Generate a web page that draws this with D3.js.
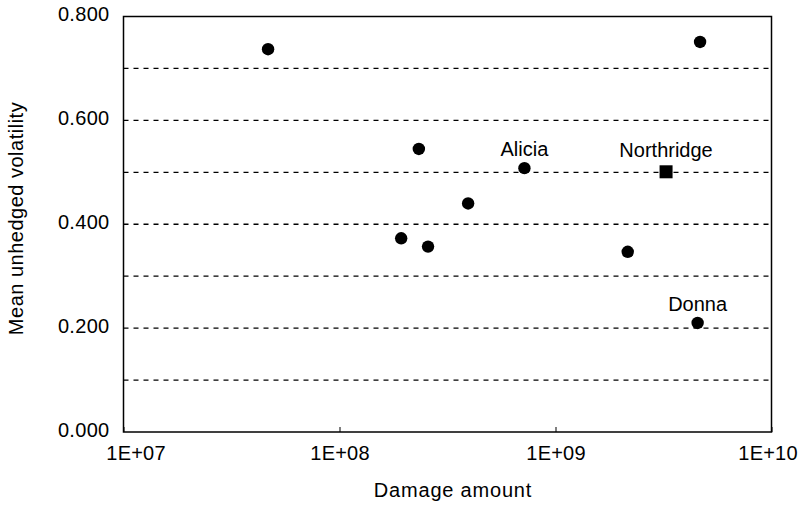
<!DOCTYPE html>
<html><head><meta charset="utf-8">
<script src="https://cdn.jsdelivr.net/npm/d3@7"></script>
<style>body{margin:0;background:#fff}svg text{font-family:"Liberation Sans",Arial,sans-serif;fill:#000}</style>
</head><body>
<svg id="c" width="805" height="507"></svg>
<script>
const damage = [4.67e7, 4.67e9, 2.33e8, 7.18e8, 3.94e8, 1.93e8, 2.57e8, 2.16e9, 4.55e9];
const volatility = [0.737, 0.751, 0.545, 0.508, 0.440, 0.373, 0.357, 0.347, 0.210];
const pointLabels = ["", "", "", "Alicia", "", "", "", "", "Donna"];
const squareDamage = [3.25e9];
const squareVolatility = [0.501];
const squareLabels = ["Northridge"];
const xTicks = [1e7, 1e8, 1e9, 1e10];
const xTickLabels = ["1E+07", "1E+08", "1E+09", "1E+10"];
const yTicks = [0, 0.2, 0.4, 0.6, 0.8];
const yGrid = [0.1, 0.2, 0.3, 0.4, 0.5, 0.6, 0.7];

const FS = 20;
const svg = d3.select("#c");
const L = 123.5, R = 771.5, T = 16.5, B = 432;
const x = d3.scaleLog().domain([1e7, 1e10]).range([L, R]);
const y = d3.scaleLinear().domain([0, 0.8]).range([B, T]);

// gridlines
svg.append("g").selectAll("line").data(yGrid).join("line")
  .attr("x1", L).attr("x2", R).attr("y1", d => y(d)).attr("y2", d => y(d))
  .attr("stroke", "#000").attr("stroke-width", 1.3).attr("stroke-dasharray", "5,5");

// frame
svg.append("rect").attr("x", L).attr("y", T).attr("width", R - L).attr("height", B - T)
  .attr("fill", "none").attr("stroke", "#000").attr("stroke-width", 1.5);

// axes
const xAxis = d3.axisBottom(x).tickValues(xTicks).tickFormat((d, i) => xTickLabels[i]).tickSize(-5).tickPadding(14);
const gx = svg.append("g").attr("transform", `translate(0,${B})`).call(xAxis);
gx.select(".domain").remove();
gx.selectAll("text").attr("font-size", FS).attr("font-family", "Liberation Sans, Arial, sans-serif")
  .attr("fill", "#000").attr("letter-spacing", "0.2")
  .attr("dx", (d, i) => i === 0 ? 12 : (i === xTicks.length - 1 ? -4 : 0));
gx.selectAll("line").attr("stroke", "#000");

const yAxis = d3.axisLeft(y).tickValues(yTicks).tickFormat(d3.format(".3f")).tickSize(0).tickPadding(14);
const gy = svg.append("g").attr("transform", `translate(${L},0)`).call(yAxis);
gy.select(".domain").remove();
gy.selectAll("text").attr("font-size", FS).attr("font-family", "Liberation Sans, Arial, sans-serif")
  .attr("fill", "#000").attr("dy", "0.22em").attr("letter-spacing", "0.3");

// axis titles
svg.append("text").attr("x", 453).attr("y", 497).attr("text-anchor", "middle")
  .attr("font-size", FS).attr("letter-spacing", "0.8").text("Damage amount");
svg.append("text").attr("transform", `translate(23,218.5) rotate(-90)`).attr("text-anchor", "middle")
  .attr("font-size", FS).attr("letter-spacing", "0.5").text("Mean unhedged volatility");

// points
const pts = damage.map((d, i) => ({x: d, y: volatility[i], label: pointLabels[i]}));
svg.append("g").selectAll("circle").data(pts).join("circle")
  .attr("cx", d => x(d.x)).attr("cy", d => y(d.y)).attr("r", 6.2).attr("fill", "#000");
svg.append("g").selectAll("text").data(pts.filter(d => d.label)).join("text")
  .attr("x", d => x(d.x)).attr("y", d => y(d.y) - 12).attr("text-anchor", "middle")
  .attr("font-size", FS).text(d => d.label);

const sq = squareDamage.map((d, i) => ({x: d, y: squareVolatility[i], label: squareLabels[i]}));
svg.append("g").selectAll("rect").data(sq).join("rect")
  .attr("x", d => x(d.x) - 6.5).attr("y", d => y(d.y) - 6.5).attr("width", 13).attr("height", 13).attr("fill", "#000");
svg.append("g").selectAll("text").data(sq).join("text")
  .attr("x", d => x(d.x)).attr("y", d => y(d.y) - 15).attr("text-anchor", "middle")
  .attr("font-size", FS).text(d => d.label);
</script>
</body></html>
